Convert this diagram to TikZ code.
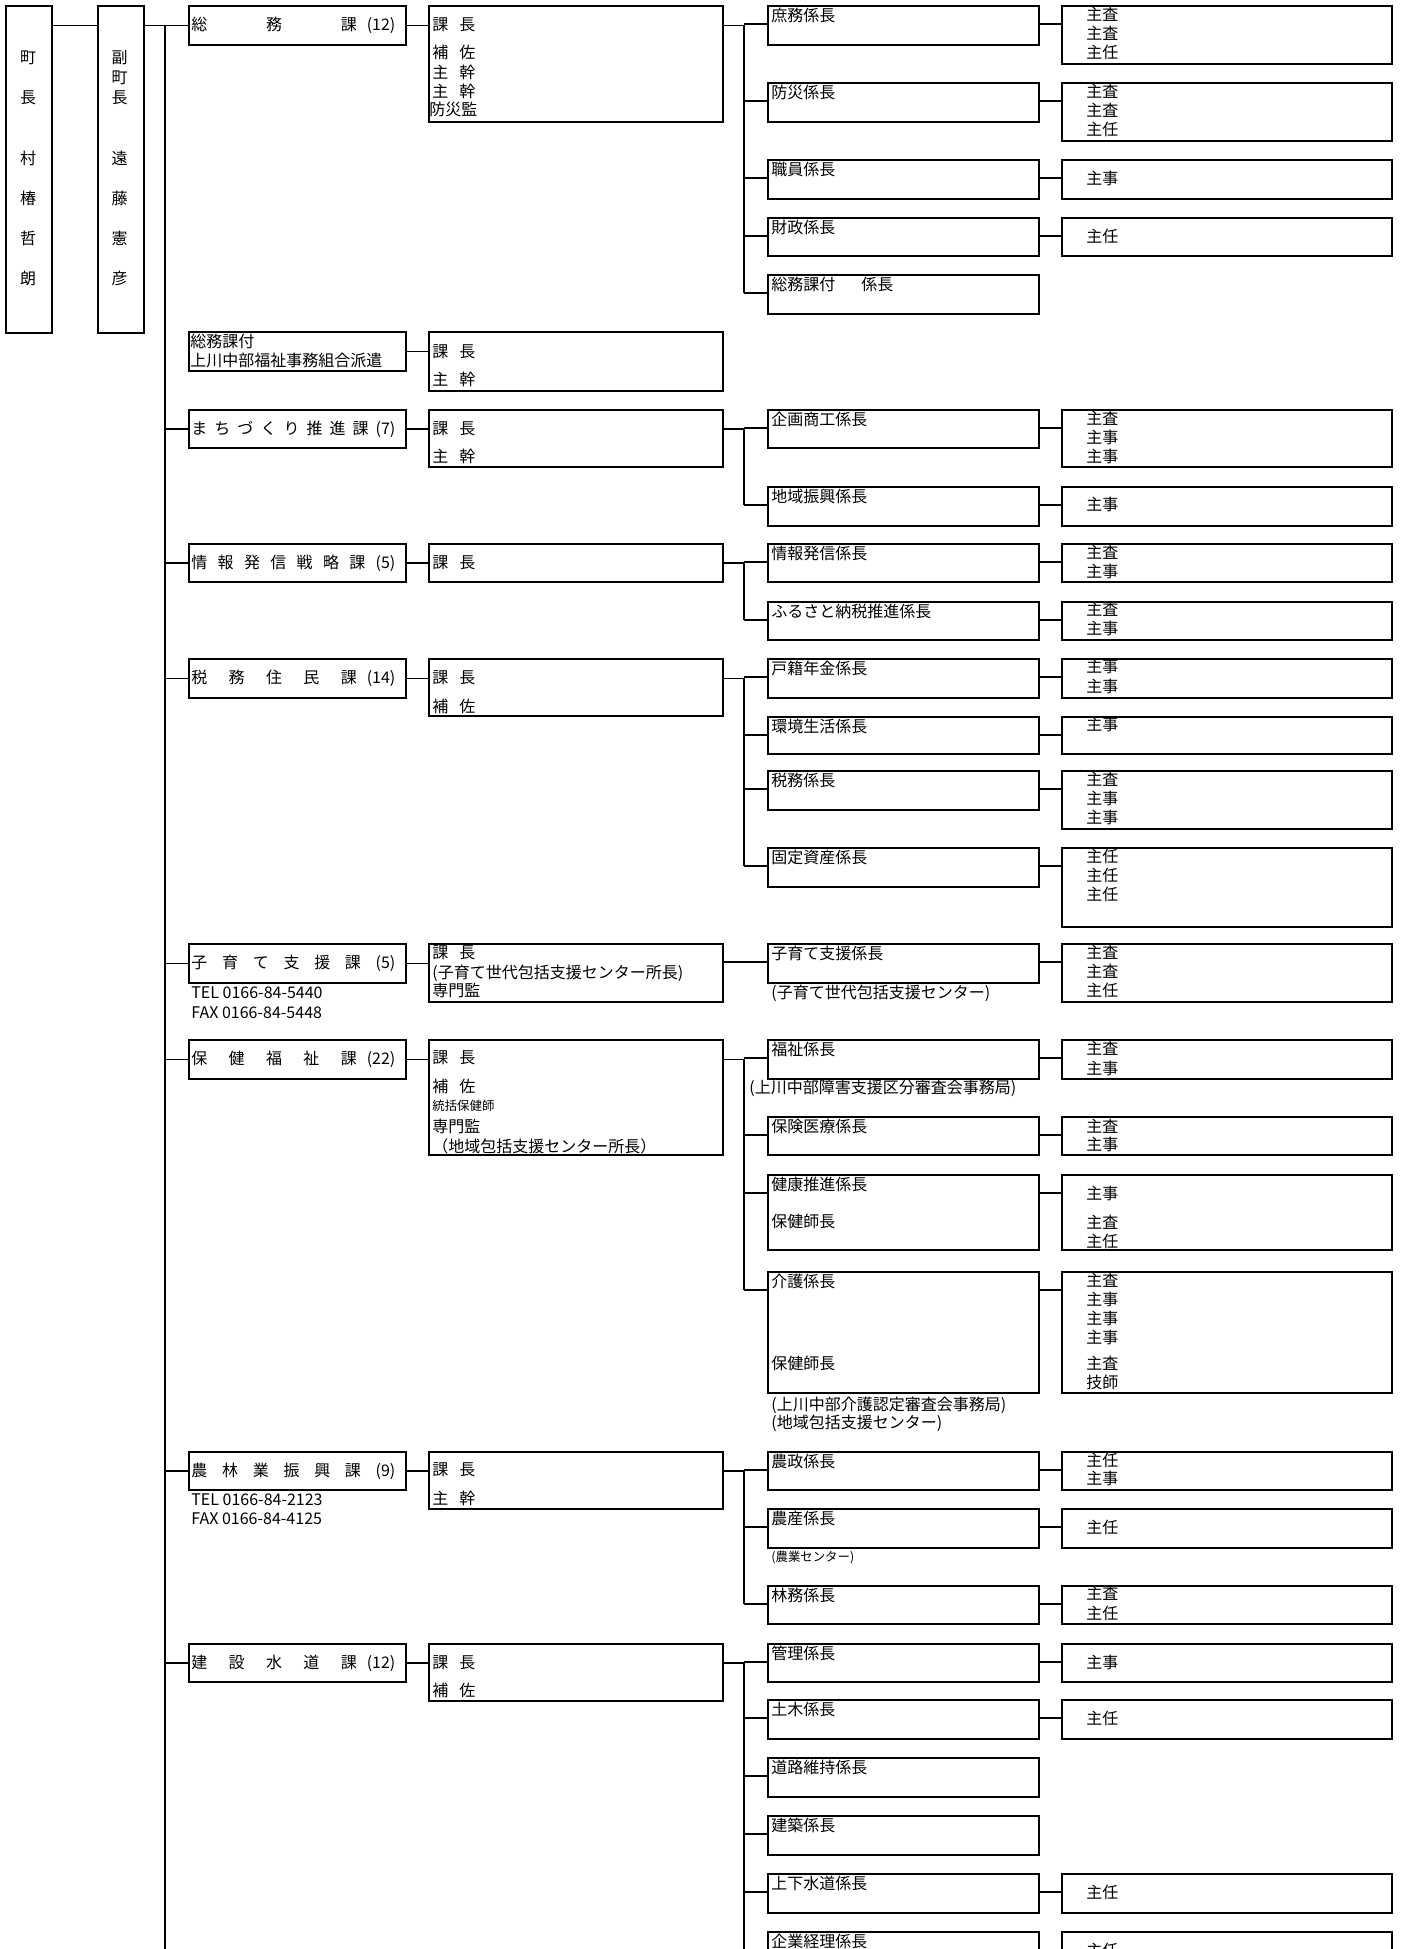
\documentclass[tikz,border=0pt]{standalone}
\usepackage{fontspec}
\setmainfont{Noto Sans CJK JP}
\tikzstyle{OrgNode}=[rectangle, draw=black, line width=0.9pt, inner sep=0pt, anchor=north west]
\tikzstyle{TopNode}=[OrgNode, minimum width=23pt, minimum height=163.5pt]
\tikzstyle{DeptNode}=[OrgNode, minimum width=108.5pt, minimum height=19.5pt]
\tikzstyle{ChiefNode}=[OrgNode, minimum width=147pt]
\tikzstyle{SubNode}=[OrgNode, minimum width=135.5pt]
\tikzstyle{StaffNode}=[OrgNode, minimum width=165pt]
\tikzstyle{Txt}=[inner sep=0pt, anchor=base west, font=\fontsize{8pt}{9.5pt}\selectfont]
\tikzstyle{SmallTxt}=[Txt, font=\fontsize{6.2pt}{7pt}\selectfont]
\tikzstyle{Edge}=[line width=0.9pt]
\newcommand{\kgap}{\hspace{5.5pt}}
\newcommand{\TxtLines}[3]{%
  \foreach \dy/\staff [count=\i] in {#3}
    \node[Txt] (#1-l\i) at ([shift={(#2,\dy)}]#1.north west) {\staff};}
\newcommand{\SubBox}[4]{%
  \node[SubNode, minimum height=#3*0.5pt] (#1) at (767,#2) {};
  \node[Txt] (#1-t) at ([shift={(4,16)}]#1.north west) {#4};
  \coordinate (#1-c) at ([shift={(0,19)}]#1.north west);
  \draw[Edge] (#1-c -| bus) -- (#1-c);}
\newcommand{\StaffBox}[3]{%
  \node[StaffNode, minimum height=#2*0.5pt] (#1-r) at (rcol |- #1.north) {};
  \TxtLines{#1-r}{25}{#3}
  \draw[Edge] (#1-c -| #1.east) -- (#1-c -| #1-r.west);}

\begin{document}
\begin{tikzpicture}[x=0.5pt, y=-0.5pt]
\useasboundingbox (0,0) rectangle (1402,1949);
\fill[white] (0,0) rectangle (1402,1949);
\coordinate (bus) at (744,0);
\coordinate (rcol) at (1061,0);
\coordinate (trunkEnd) at (165,1965);

% mayor and deputy mayor
\node[TopNode] (Mayor) at (5,5) {};
\node[TopNode] (Deputy) at (97,5) {};
\foreach \dy/\ch [count=\i] in {63/町,103/長,164/村,204/椿,244/哲,284/朗}
  \node[Txt, anchor=base] (Mayor-\i) at (28,\dy) {\ch};
\foreach \dy/\ch [count=\i] in {63/副,83/町,103/長,164/遠,204/藤,244/憲,284/彦}
  \node[Txt, anchor=base] (Deputy-\i) at (119.5,\dy) {\ch};

% departments
\node[DeptNode] (Somu) at (188,5) {};
\node[Txt] (Somu-t) at ([shift={(3,25)}]Somu.north west) {\makebox[102pt]{総\hfill 務\hfill 課\hspace{5pt}(12)}};
\node[DeptNode] (Haken) at (188,331) {};
\TxtLines{Haken}{2}{16/総務課付,35/上川中部福祉事務組合派遣}
\node[DeptNode, minimum height=19pt] (Machi) at (188,409) {};
\node[Txt] (Machi-t) at ([shift={(3,25)}]Machi.north west) {\makebox[102pt]{ま\hfill ち\hfill づ\hfill く\hfill り\hfill 推\hfill 進\hfill 課\hfill (7)}};
\node[DeptNode, minimum height=19pt] (Joho) at (188,543) {};
\node[Txt] (Joho-t) at ([shift={(3,25)}]Joho.north west) {\makebox[102pt]{情\hfill 報\hfill 発\hfill 信\hfill 戦\hfill 略\hfill 課\hfill (5)}};
\node[DeptNode] (Zeimu) at (188,658) {};
\node[Txt] (Zeimu-t) at ([shift={(3,25)}]Zeimu.north west) {\makebox[102pt]{税\hfill 務\hfill 住\hfill 民\hfill 課\hspace{5pt}(14)}};
\node[DeptNode] (Kosodate) at (188,943) {};
\node[Txt] (Kosodate-t) at ([shift={(3,25)}]Kosodate.north west) {\makebox[102pt]{子\hfill 育\hfill て\hfill 支\hfill 援\hfill 課\hfill (5)}};
\TxtLines{Kosodate}{3}{55/TEL 0166-84-5440,75/FAX 0166-84-5448}
\node[DeptNode] (Hoken) at (188,1039) {};
\node[Txt] (Hoken-t) at ([shift={(3,25)}]Hoken.north west) {\makebox[102pt]{保\hfill 健\hfill 福\hfill 祉\hfill 課\hspace{5pt}(22)}};
\node[DeptNode, minimum height=19pt] (Norin) at (188,1451) {};
\node[Txt] (Norin-t) at ([shift={(3,25)}]Norin.north west) {\makebox[102pt]{農\hfill 林\hfill 業\hfill 振\hfill 興\hfill 課\hfill (9)}};
\TxtLines{Norin}{3}{54/TEL 0166-84-2123,73/FAX 0166-84-4125}
\node[DeptNode, minimum height=19pt] (Kensetsu) at (188,1643) {};
\node[Txt] (Kensetsu-t) at ([shift={(3,25)}]Kensetsu.north west) {\makebox[102pt]{建\hfill 設\hfill 水\hfill 道\hfill 課\hspace{5pt}(12)}};

% section chiefs
\node[ChiefNode, minimum height=58pt] (SomuChief) at (428,5) {};
\TxtLines{SomuChief}{4}{25/課\kgap 長,53/補\kgap 佐,73/主\kgap 幹,92/主\kgap 幹,110/\hspace*{-1.5pt}防災監}
\node[ChiefNode, minimum height=29.5pt] (HakenChief) at (428,331) {};
\TxtLines{HakenChief}{4}{26/課\kgap 長,54/主\kgap 幹}
\node[ChiefNode, minimum height=28.5pt] (MachiChief) at (428,409) {};
\TxtLines{MachiChief}{4}{25/課\kgap 長,53/主\kgap 幹}
\node[ChiefNode, minimum height=19pt] (JohoChief) at (428,543) {};
\TxtLines{JohoChief}{4}{25/課\kgap 長}
\node[ChiefNode, minimum height=28.5pt] (ZeimuChief) at (428,658) {};
\TxtLines{ZeimuChief}{4}{25/課\kgap 長,54/補\kgap 佐}
\node[ChiefNode, minimum height=29pt] (KosodateChief) at (428,943) {};
\TxtLines{KosodateChief}{4}{15/課\kgap 長,35/(子育て世代包括支援センター所長),53/専門監}
\node[ChiefNode, minimum height=57.5pt] (HokenChief) at (428,1039) {};
\TxtLines{HokenChief}{4}{24/課\kgap 長,53/補\kgap 佐,71/{\fontsize{6.2pt}{7pt}\selectfont 統括保健師},93/専門監,113/（地域包括支援センター所長）}
\node[ChiefNode, minimum height=28.5pt] (NorinChief) at (428,1451) {};
\TxtLines{NorinChief}{4}{24/課\kgap 長,53/主\kgap 幹}
\node[ChiefNode, minimum height=28.5pt] (KensetsuChief) at (428,1643) {};
\TxtLines{KensetsuChief}{4}{25/課\kgap 長,53/補\kgap 佐}

% trunk
\draw[Edge] (Somu.west -| Mayor.east) -- (Somu.west -| Deputy.west);
\draw[Edge] (Somu.west -| Deputy.east) -- (Somu.west);
\draw[Edge] (Somu.west -| trunkEnd) -- (trunkEnd);
\foreach \d in {Machi,Joho,Zeimu,Kosodate,Hoken,Norin,Kensetsu}
  \draw[Edge] (\d.west -| trunkEnd) -- (\d.west);
\foreach \d in {Somu,Haken,Machi,Joho,Zeimu,Kosodate,Hoken,Norin,Kensetsu}
  \draw[Edge] (\d.east) -- (\d.east -| \d Chief.west);

% somu
\SubBox{Shomu}{5}{39}{庶務係長}
\SubBox{Bosai}{82}{39}{防災係長}
\SubBox{Shokuin}{159}{39}{職員係長}
\SubBox{Zaisei}{217}{38}{財政係長}
\SubBox{SomuFu}{274}{39}{総務課付\hspace{13pt}係長}
\StaffBox{Shomu}{58}{15/主査,34/主査,53/主任}
\StaffBox{Bosai}{58}{15/主査,34/主査,53/主任}
\StaffBox{Shokuin}{39}{25/主事}
\StaffBox{Zaisei}{38}{25/主任}
\draw[Edge] (Somu.east -| SomuChief.east) -- (Somu.east -| bus) -- (SomuFu-c -| bus);

% machi
\SubBox{Kikaku}{409}{38}{企画商工係長}
\SubBox{Chiiki}{486}{39}{地域振興係長}
\StaffBox{Kikaku}{57}{15/主査,34/主事,53/主事}
\StaffBox{Chiiki}{39}{24/主事}
\draw[Edge] (Machi.east -| MachiChief.east) -- (Machi.east -| bus) -- (Chiiki-c -| bus);

% joho
\SubBox{JohoH}{543}{38}{情報発信係長}
\SubBox{Furusato}{601}{38}{ふるさと納税推進係長}
\StaffBox{JohoH}{38}{15/主査,34/主事}
\StaffBox{Furusato}{38}{14/主査,33/主事}
\draw[Edge] (Joho.east -| JohoChief.east) -- (Joho.east -| bus) -- (Furusato-c -| bus);

% zeimu
\SubBox{Koseki}{658}{39}{戸籍年金係長}
\SubBox{Kankyo}{716}{37}{環境生活係長}
\SubBox{ZeimuK}{770}{39}{税務係長}
\SubBox{Kotei}{847}{39}{固定資産係長}
\StaffBox{Koseki}{39}{14/主事,34/主事}
\StaffBox{Kankyo}{37}{14/主事}
\StaffBox{ZeimuK}{58}{15/主査,34/主事,53/主事}
\StaffBox{Kotei}{79}{15/主任,34/主任,53/主任}
\draw[Edge] (Zeimu.east -| ZeimuChief.east) -- (Zeimu.east -| bus) -- (Kotei-c -| bus);

% kosodate
\SubBox{KosoK}{943}{39}{子育て支援係長}
\node[Txt] (KosoK-n) at ([shift={(4,55)}]KosoK.north west) {(子育て世代包括支援センター)};
\StaffBox{KosoK}{58}{15/主査,34/主査,53/主任}
\draw[Edge] (KosoK-c -| KosodateChief.east) -- (KosoK-c);

% hoken
\SubBox{Fukushi}{1039}{39}{福祉係長}
\node[Txt] (Fukushi-n) at ([shift={(-18,54)}]Fukushi.north west) {(上川中部障害支援区分審査会事務局)};
\SubBox{Iryo}{1116}{38}{保険医療係長}
\SubBox{Kenko}{1174}{75}{健康推進係長}
\node[Txt] (Kenko-t2) at ([shift={(4,53)}]Kenko.north west) {保健師長};
\SubBox{Kaigo}{1271}{121}{介護係長}
\node[Txt] (Kaigo-t2) at ([shift={(4,98)}]Kaigo.north west) {保健師長};
\TxtLines{Kaigo}{4}{139/(上川中部介護認定審査会事務局),157/(地域包括支援センター)}
\StaffBox{Fukushi}{39}{15/主査,35/主事}
\StaffBox{Iryo}{38}{16/主査,34/主事}
\StaffBox{Kenko}{75}{25/主事,54/主査,73/主任}
\StaffBox{Kaigo}{121}{15/主査,34/主事,53/主事,72/主事,98/主査,117/技師}
\draw[Edge] (Hoken.east -| HokenChief.east) -- (Hoken.east -| bus) -- (Kaigo-c -| bus);

% norin
\SubBox{Nosei}{1451}{38}{農政係長}
\SubBox{Nosan}{1508}{39}{農産係長}
\node[SmallTxt] (Nosan-n) at ([shift={(4,53)}]Nosan.north west) {(農業センター)};
\SubBox{Rimmu}{1585}{38}{林務係長}
\StaffBox{Nosei}{38}{15/主任,33/主事}
\StaffBox{Nosan}{39}{25/主任}
\StaffBox{Rimmu}{38}{14/主査,34/主任}
\draw[Edge] (Norin.east -| NorinChief.east) -- (Norin.east -| bus) -- (Rimmu-c -| bus);

% kensetsu
\SubBox{Kanri}{1643}{38}{管理係長}
\SubBox{Doboku}{1699}{39}{土木係長}
\SubBox{Doro}{1757}{39}{道路維持係長}
\SubBox{Kenchiku}{1815}{39}{建築係長}
\SubBox{Josui}{1873}{39}{上下水道係長}
\SubBox{Kigyo}{1931}{39}{企業経理係長}
\StaffBox{Kanri}{38}{25/主事}
\StaffBox{Doboku}{39}{25/主任}
\StaffBox{Josui}{39}{25/主任}
\StaffBox{Kigyo}{39}{25/主任}
\draw[Edge] (Kensetsu.east -| KensetsuChief.east) -- (Kensetsu.east -| bus) -- (bus |- trunkEnd);
\end{tikzpicture}
\end{document}
